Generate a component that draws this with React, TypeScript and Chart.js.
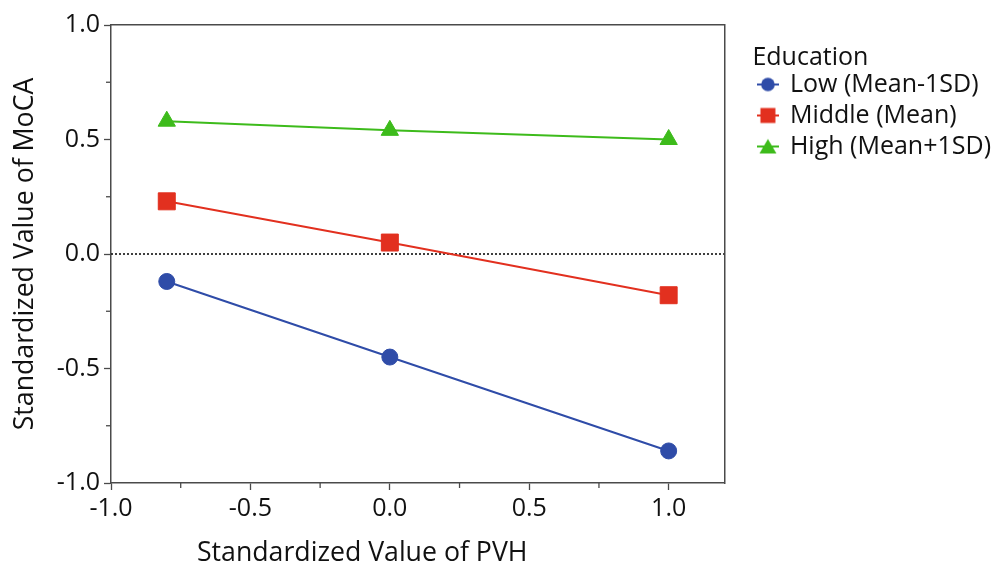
import { useEffect, useRef } from "react";
import { Chart, registerables } from "chart.js";
Chart.register(...registerables);

const pvhValues = [-0.8, 0.0, 1.0];
const lowValues = [-0.12, -0.45, -0.86];
const middleValues = [0.23, 0.05, -0.18];
const highValues = [0.58, 0.54, 0.5];
const seriesLabels = ["Low (Mean-1SD)", "Middle (Mean)", "High (Mean+1SD)"];
const legendTitle = "Education";
const xTitle = "Standardized Value of PVH";
const yTitle = "Standardized Value of MoCA";
const xMajorTicks = [-1.0, -0.5, 0.0, 0.5, 1.0];
const xMinorTicks = [-0.75, -0.25, 0.25, 0.75];
const yMajorTicks = [-1.0, -0.5, 0.0, 0.5, 1.0];
const yMinorTicks = [-0.75, -0.25, 0.25, 0.75];
const xRange = [-1.0, 1.2];
const yRange = [-1.0, 1.0];
const referenceX = [-1.0, 1.2];
const referenceY = [0, 0];

const FONT = "'Open Sans', 'DejaVu Sans', sans-serif";
const FS = 25;
const TFS = 26.7;
const AXIS = "#4a4a4a";
const TEXT = "#111111";
const BLUE = "#2f4ca8";
const RED = "#e2301f";
const GREEN = "#3dbb1b";
const COLORS = [BLUE, RED, GREEN];
const STYLES = ["circle", "rect", "triangle"];

function makeLegendIcon(style: string, color: string) {
  const c = document.createElement("canvas");
  c.width = 22;
  c.height = 18;
  const g = c.getContext("2d")!;
  g.strokeStyle = color;
  g.fillStyle = color;
  g.lineWidth = 2;
  g.beginPath();
  g.moveTo(0, 9);
  g.lineTo(22, 9);
  g.stroke();
  g.beginPath();
  if (style === "circle") {
    g.arc(11, 9, 6.8, 0, Math.PI * 2);
  } else if (style === "rect") {
    g.rect(3.5, 1.5, 15, 15);
  } else {
    g.moveTo(11, 1.5);
    g.lineTo(19.5, 16);
    g.lineTo(2.5, 16);
    g.closePath();
  }
  g.fill();
  return c;
}

const minorTicksPlugin = {
  id: "minorTicks",
  afterDraw(chart: any) {
    const { ctx, chartArea, scales } = chart;
    ctx.save();
    ctx.strokeStyle = AXIS;
    ctx.lineWidth = 1.3;
    xMinorTicks.forEach((v) => {
      const px = scales.x.getPixelForValue(v);
      ctx.beginPath();
      ctx.moveTo(px, chartArea.bottom);
      ctx.lineTo(px, chartArea.bottom + 5);
      ctx.stroke();
    });
    yMinorTicks.forEach((v) => {
      const py = scales.y.getPixelForValue(v);
      ctx.beginPath();
      ctx.moveTo(chartArea.left - 5, py);
      ctx.lineTo(chartArea.left, py);
      ctx.stroke();
    });
    // x-axis title, centred over the plot region (figure left edge to frame right edge)
    ctx.fillStyle = TEXT;
    ctx.font = `${TFS}px ${FONT}`;
    ctx.textAlign = "center";
    ctx.textBaseline = "middle";
    ctx.fillText(xTitle, (scales.y.left + chartArea.right) / 2, scales.x.bottom - 8.5);
    ctx.restore();
  },
};

export default function App() {
  const ref = useRef<HTMLCanvasElement | null>(null);
  useEffect(() => {
    document.body.style.margin = "0";
    if (!ref.current) return;
    const icons = STYLES.map((s, i) => makeLegendIcon(s, COLORS[i]));
    const mk = (vals: number[]) => pvhValues.map((x, i) => ({ x, y: vals[i] }));
    const series = [lowValues, middleValues, highValues];
    const radii = [8, 12, 10];
    const chart = new Chart(ref.current, {
      type: "line",
      data: {
        datasets: [
          ...series.map((vals, i) => ({
            label: seriesLabels[i],
            data: mk(vals),
            borderColor: COLORS[i],
            backgroundColor: COLORS[i],
            pointStyle: STYLES[i],
            pointRadius: radii[i],
            borderWidth: 2,
            pointBorderWidth: 1,
          })),
          {
            label: "ref",
            data: referenceX.map((x, i) => ({ x, y: referenceY[i] })),
            borderColor: "#111",
            borderWidth: 1.6,
            borderDash: [2, 2],
            pointRadius: 0,
          },
        ] as any,
      },
      options: {
        animation: false,
        responsive: true,
        maintainAspectRatio: false,
        layout: { padding: { left: 0, right: -6, top: 0, bottom: 0 } },
        scales: {
          x: {
            type: "linear",
            position: "bottom",
            min: xRange[0],
            max: xRange[1],
            afterBuildTicks: (s: any) => {
              s.ticks = xMajorTicks.map((v) => ({ value: v }));
            },
            afterFit: (s: any) => {
              s.height = 79;
            },
            ticks: {
              color: TEXT,
              font: { family: FONT, size: FS },
              padding: 4,
              maxRotation: 0,
              callback: (v: any) => Number(v).toFixed(1),
            },
            grid: { drawOnChartArea: false, drawTicks: true, tickLength: 7, color: AXIS, tickWidth: 1.3 },
            border: { display: true, color: AXIS, width: 1.5 },
            title: { display: false },
          },
          x2: {
            type: "linear",
            position: "top",
            min: xRange[0],
            max: xRange[1],
            afterFit: (s: any) => {
              s.height = 25;
            },
            ticks: { display: false },
            grid: { drawOnChartArea: false, drawTicks: false },
            border: { display: true, color: AXIS, width: 1.5 },
          },
          y: {
            type: "linear",
            position: "left",
            min: yRange[0],
            max: yRange[1],
            afterBuildTicks: (s: any) => {
              s.ticks = yMajorTicks.map((v) => ({ value: v }));
            },
            afterFit: (s: any) => {
              s.width = 111;
            },
            ticks: {
              color: TEXT,
              font: { family: FONT, size: FS },
              padding: 4,
              callback: (v: any) => Number(v).toFixed(1),
            },
            grid: { drawOnChartArea: false, drawTicks: true, tickLength: 7, color: AXIS, tickWidth: 1.3 },
            border: { display: true, color: AXIS, width: 1.5 },
            title: { display: true, text: yTitle, color: TEXT, font: { family: FONT, size: TFS }, padding: { top: 9, bottom: 0 } },
          },
          y2: {
            type: "linear",
            position: "right",
            min: yRange[0],
            max: yRange[1],
            afterFit: (s: any) => {
              s.width = 28;
            },
            ticks: { display: false },
            grid: { drawOnChartArea: false, drawTicks: false },
            border: { display: true, color: AXIS, width: 1.5 },
          },
        } as any,
        plugins: {
          tooltip: { enabled: false },
          legend: {
            position: "right",
            align: "start",
            maxWidth: 320,
            title: {
              display: true,
              text: legendTitle,
              color: TEXT,
              position: "start",
              font: { family: FONT, size: FS },
              padding: { top: 45, bottom: -9 },
            } as any,
            labels: {
              usePointStyle: true,
              boxWidth: 19,
              boxHeight: 11,
              padding: 6,
              color: TEXT,
              font: { family: FONT, size: FS },
              filter: (item: any) => item.datasetIndex < 3,
              generateLabels: (ch: any) => {
                const base = (Chart.defaults.plugins.legend.labels as any).generateLabels(ch);
                return base.map((it: any) => ({
                  ...it,
                  pointStyle: it.datasetIndex < 3 ? icons[it.datasetIndex] : it.pointStyle,
                }));
              },
            },
          } as any,
        },
      },
      plugins: [minorTicksPlugin],
    });
    return () => chart.destroy();
  }, []);
  return (
    <div style={{ width: 995, height: 562, position: "relative" }}>
      <canvas ref={ref} />
    </div>
  );
}
